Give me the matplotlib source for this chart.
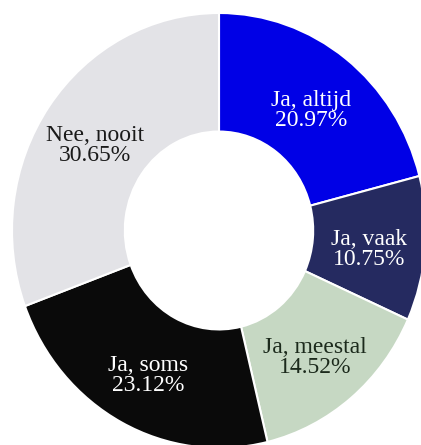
import matplotlib
matplotlib.use("Agg")
import matplotlib.pyplot as plt
import numpy as np

labels = ["Ja, altijd", "Ja, vaak", "Ja, meestal", "Ja, soms", "Nee, nooit"]
values = [20.97, 10.75, 14.52, 23.12, 30.65]
colors = ["#0000e6", "#252a60", "#c6d8c3", "#0a0a0a", "#e3e3e7"]
text_colors = ["#ffffff", "#ffffff", "#1c2a1c", "#ffffff", "#1a1a1a"]

fig = plt.figure(figsize=(4.21, 4.45), dpi=100)
ax = fig.add_axes([0, 0, 1, 1])

inner = 0.455
wedges, _ = ax.pie(values, colors=colors, startangle=90, counterclock=False,
                   radius=1.0,
                   wedgeprops=dict(width=1 - inner, edgecolor="white", linewidth=1.5))
ax.set_aspect("auto")
ax.set_xlim(-219 / 207, (421 - 219) / 207)
ax.set_ylim(-214.5 / 217.5, 230.5 / 217.5)
ax.axis("off")

rmid = (1 + inner) / 2
for w, lab, v, tc in zip(wedges, labels, values, text_colors):
    ang = np.deg2rad((w.theta1 + w.theta2) / 2)
    x, y = rmid * np.cos(ang), rmid * np.sin(ang) - 0.025
    ax.text(x, y, f"{lab}\n{v:.2f}%", ha="center", va="center",
            fontsize=17, family="Liberation Serif", color=tc, linespacing=0.92)

fig.savefig("out.png", dpi=100)
